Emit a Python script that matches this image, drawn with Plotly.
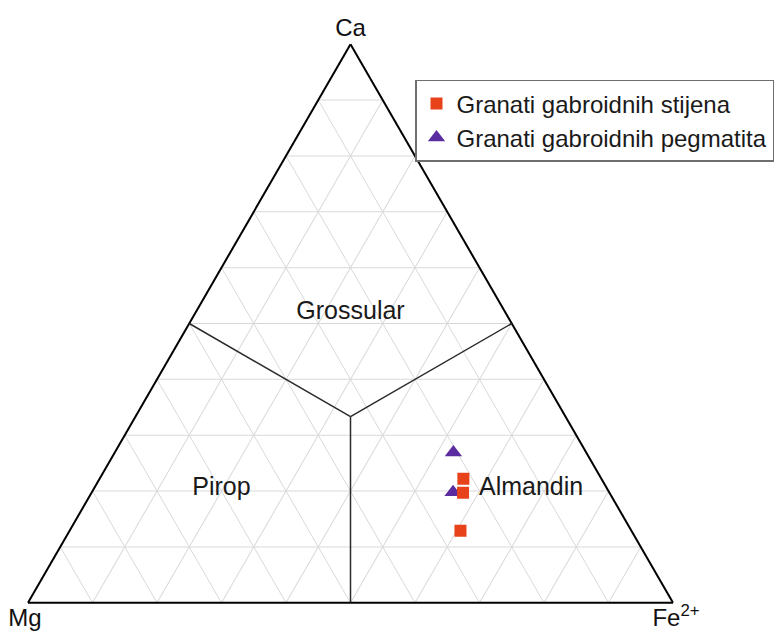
import plotly.graph_objects as go

# Garnet end-member compositions (fractions of Ca, Mg, Fe2+)
stijena_ca = [0.222, 0.197, 0.129]
stijena_mg = [0.214, 0.227, 0.265]
stijena_fe = [0.564, 0.576, 0.606]

pegmatit_ca = [0.269, 0.198]
pegmatit_mg = [0.206, 0.242]
pegmatit_fe = [0.525, 0.560]

series_names = ["Granati gabroidnih stijena", "Granati gabroidnih pegmatita"]
axis_titles = ["Ca", "Mg", "Fe<sup>2+</sup>"]

# Field names of the classification
field_names = ["Grossular", "Pirop", "Almandin"]
field_ca = [0.52, 0.204, 0.204]
field_mg = [0.24, 0.598, 0.118]
field_fe = [0.24, 0.198, 0.678]

FONT = "Liberation Sans, Arial, sans-serif"
third = 1 / 3

fig = go.Figure()

# Field boundaries: from the centroid to the middle of each side
for ca_end, mg_end, fe_end in [(0.5, 0.5, 0.0), (0.5, 0.0, 0.5), (0.0, 0.5, 0.5)]:
    fig.add_trace(go.Scatterternary(
        a=[third, ca_end], b=[third, mg_end], c=[third, fe_end],
        mode="lines", line=dict(color="#2b2b2b", width=1.5),
        showlegend=False, hoverinfo="skip",
    ))

fig.add_trace(go.Scatterternary(
    a=field_ca, b=field_mg, c=field_fe, text=field_names,
    mode="text", textposition="middle center",
    textfont=dict(family=FONT, size=25, color="#1a1a1a"),
    showlegend=False, hoverinfo="skip",
))

fig.add_trace(go.Scatterternary(
    a=pegmatit_ca, b=pegmatit_mg, c=pegmatit_fe,
    name=series_names[1], mode="markers", legendrank=2,
    marker=dict(symbol="triangle-up", size=15, color="#5b2ca0"),
))
fig.add_trace(go.Scatterternary(
    a=stijena_ca, b=stijena_mg, c=stijena_fe,
    name=series_names[0], mode="markers", legendrank=1,
    marker=dict(symbol="square", size=12, color="#e8421a"),
))

axis_style = dict(
    tick0=0, dtick=0.1, ticks="", showticklabels=False,
    showgrid=True, gridcolor="#d9d9d9", gridwidth=1,
    linecolor="#000000", linewidth=2, layer="below traces",
)

fig.update_layout(
    width=781, height=633,
    paper_bgcolor="white", plot_bgcolor="white",
    margin=dict(l=28, r=108, t=44, b=30, autoexpand=False),
    font=dict(family=FONT, color="#111111"),
    ternary=dict(
        sum=1, bgcolor="white",
        aaxis=dict(title=dict(text=axis_titles[0], font=dict(size=24)), **axis_style),
        baxis=dict(title=dict(text=axis_titles[1], font=dict(size=24)), **axis_style),
        caxis=dict(title=dict(text=axis_titles[2], font=dict(size=24)), **axis_style),
    ),
    legend=dict(
        x=0.6, y=0.936, xanchor="left", yanchor="top",
        bgcolor="white", bordercolor="#6e6e6e", borderwidth=1.5,
        font=dict(family=FONT, size=24, color="#1a1a1a"),
        itemwidth=30, tracegroupgap=0,
    ),
)

fig.write_html("out.html")
